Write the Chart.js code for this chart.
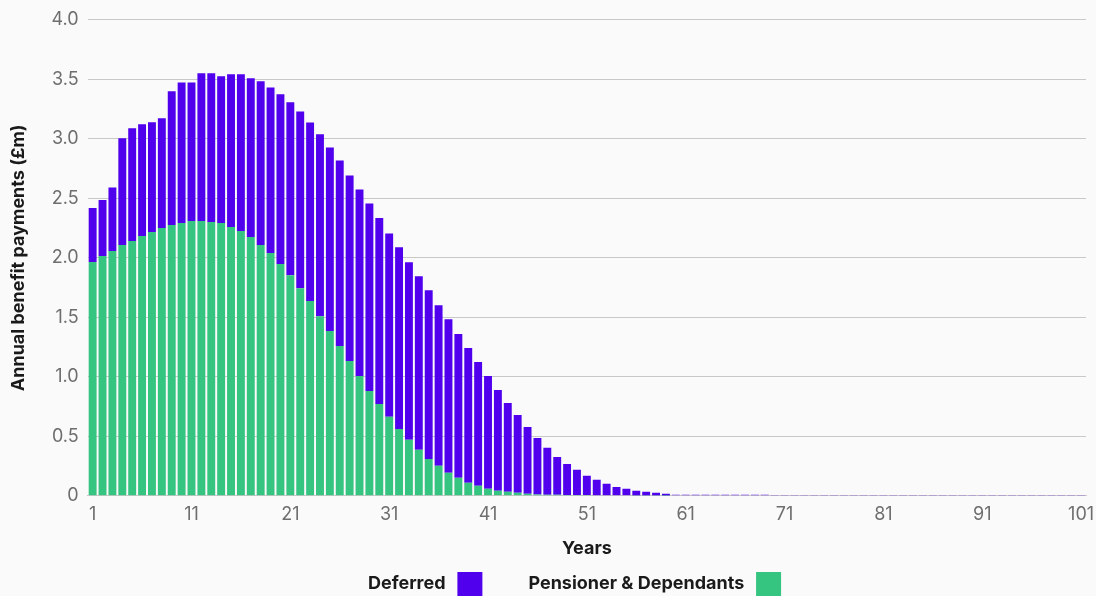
<!DOCTYPE html>
<html lang="en">
<head>
    <meta charset="UTF-8">
    <title>Annual benefit payments</title>
    <script src="https://cdn.jsdelivr.net/npm/chart.js"></script>
    <style>
        html, body { margin: 0; padding: 0; background: #fafafa; overflow: hidden; }
        #wrap { position: relative; width: 1096px; height: 606px; }
    </style>
</head>
<body>
    <div id="wrap"><canvas id="grafico"></canvas></div>

    <script>
        // years 1..101
        const years = [
            '1','2','3','4','5','6','7','8','9','10',
            '11','12','13','14','15','16','17','18','19','20',
            '21','22','23','24','25','26','27','28','29','30',
            '31','32','33','34','35','36','37','38','39','40',
            '41','42','43','44','45','46','47','48','49','50',
            '51','52','53','54','55','56','57','58','59','60',
            '61','62','63','64','65','66','67','68','69','70',
            '71','72','73','74','75','76','77','78','79','80',
            '81','82','83','84','85','86','87','88','89','90',
            '91','92','93','94','95','96','97','98','99','100',
            '101'
        ];

        // £m
        const pensioners = [
            1.965, 2.015, 2.057, 2.108, 2.141, 2.183, 2.217, 2.250, 2.275, 2.292,
            2.309, 2.309, 2.300, 2.292, 2.258, 2.225, 2.174, 2.108, 2.040, 1.948,
            1.853, 1.744, 1.638, 1.509, 1.384, 1.258, 1.132, 1.006, 0.881, 0.771,
            0.665, 0.562, 0.470, 0.386, 0.310, 0.252, 0.193, 0.151, 0.109, 0.084,
            0.059, 0.042, 0.034, 0.025, 0.017, 0.010, 0.008, 0.008, 0.007, 0.006,
            0.006, 0.005, 0.005, 0.004, 0.004, 0.003, 0.002, 0.002, 0.001, 0,
            0, 0, 0, 0, 0, 0, 0, 0, 0, 0,
            0, 0, 0, 0, 0, 0, 0, 0, 0, 0,
            0, 0, 0, 0, 0, 0, 0, 0, 0, 0,
            0, 0, 0, 0, 0, 0, 0, 0, 0, 0,
            0
        ];

        const deferred = [
            0.453, 0.470, 0.534, 0.897, 0.948, 0.939, 0.922, 0.922, 1.124, 1.182,
            1.165, 1.241, 1.250, 1.233, 1.284, 1.317, 1.334, 1.375, 1.392, 1.426,
            1.454, 1.485, 1.498, 1.529, 1.543, 1.560, 1.560, 1.568, 1.576, 1.563,
            1.540, 1.526, 1.492, 1.459, 1.417, 1.350, 1.291, 1.209, 1.134, 1.040,
            0.947, 0.847, 0.746, 0.654, 0.562, 0.476, 0.395, 0.319, 0.261, 0.212,
            0.162, 0.129, 0.096, 0.071, 0.055, 0.039, 0.032, 0.023, 0.016, 0.008,
            0.008, 0.008, 0.008, 0.008, 0.008, 0.008, 0.008, 0.008, 0.008, 0.002,
            0.002, 0.002, 0.002, 0.002, 0.002, 0.002, 0.002, 0.002, 0.002, 0.002,
            0.002, 0.002, 0.002, 0.002, 0.002, 0.002, 0.002, 0.002, 0.002, 0.002,
            0.002, 0.002, 0.002, 0.002, 0.002, 0.002, 0.002, 0.002, 0.002, 0.002,
            0.002
        ];

        const yTicks = ['0', '0.5', '1.0', '1.5', '2.0', '2.5', '3.0', '3.5', '4.0'];

        const fonte = 'Inter, "Open Sans", sans-serif';

        // espaços extras na legenda: caixa à direita do texto, afastamento entre itens
        const legendPrefix = { 'Deferred': '\u2003\u2003\u2002', 'Pensioner & Dependants': '\u2003\u2003' };

        new Chart(document.getElementById('grafico'), {
            type: 'bar',
            data: {
                labels: years,
                datasets: [
                    {
                        label: 'Pensioner & Dependants',
                        data: pensioners,
                        backgroundColor: '#36c481',
                        barPercentage: 0.8,
                        categoryPercentage: 1
                    },
                    {
                        label: 'Deferred',
                        data: deferred,
                        backgroundColor: '#5000ec',
                        barPercentage: 0.8,
                        categoryPercentage: 1
                    }
                ]
            },
            options: {
                responsive: true,
                maintainAspectRatio: false,
                animation: false,
                layout: { padding: { top: 8, right: 0, left: 8, bottom: 0 } },
                plugins: {
                    tooltip: { enabled: false },
                    legend: {
                        position: 'bottom',
                        rtl: true,
                        textDirection: 'ltr',
                        labels: {
                            boxWidth: 25,
                            boxHeight: 24,
                            padding: 10,
                            color: '#1a1a1a',
                            font: { family: fonte, size: 18, weight: 'bold' },
                            generateLabels: function(chart) {
                                const itens = Chart.defaults.plugins.legend.labels.generateLabels(chart);
                                itens.forEach(function(item) {
                                    item.text = (legendPrefix[item.text] || '') + item.text + '\u2009';
                                });
                                return itens;
                            }
                        }
                    }
                },
                scales: {
                    x: {
                        stacked: true,
                        grid: { display: false, drawTicks: false },
                        border: { color: '#c8c8c8' },
                        afterFit: function(scale) {
                            scale.paddingRight = 10; // o "101" pode encostar na borda
                        },
                        ticks: {
                            autoSkip: false,
                            maxRotation: 0,
                            padding: 8,
                            color: '#6e6e6e',
                            font: { family: fonte, size: 18 },
                            callback: function(value, index) {
                                return index % 10 === 0 ? years[index] : '';
                            }
                        },
                        title: {
                            display: true,
                            text: 'Years',
                            color: '#1a1a1a',
                            font: { family: fonte, size: 18, weight: 'bold' },
                            padding: { top: 4, bottom: 3 }
                        }
                    },
                    y: {
                        stacked: true,
                        min: 0,
                        max: 4,
                        grid: { color: '#c8c8c8', drawTicks: false },
                        border: { display: false },
                        ticks: {
                            stepSize: 0.5,
                            padding: 9,
                            color: '#6e6e6e',
                            font: { family: fonte, size: 18 },
                            callback: function(value) {
                                return yTicks[Math.round(value * 2)];
                            }
                        },
                        title: {
                            display: true,
                            text: 'Annual benefit payments (£m)',
                            color: '#1a1a1a',
                            font: { family: fonte, size: 18, weight: 'bold' },
                            padding: { top: 0, bottom: 13 }
                        }
                    }
                }
            }
        });
    </script>
</body>
</html>
